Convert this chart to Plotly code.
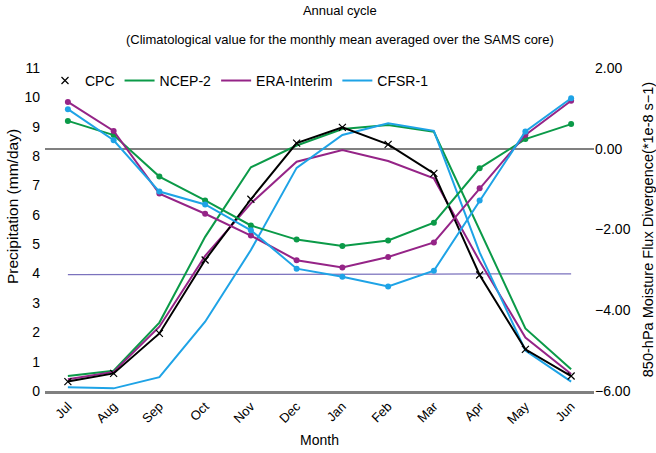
import plotly.graph_objects as go

# months, Jul..Jun
months = ["Jul", "Aug", "Sep", "Oct", "Nov", "Dec", "Jan", "Feb", "Mar", "Apr", "May", "Jun"]

# precipitation (mm/day), left axis
cpc_pr = [0.32, 0.60, 1.96, 4.46, 6.53, 8.44, 8.98, 8.40, 7.41, 3.95, 1.42, 0.51]
ncep_pr = [0.51, 0.69, 2.33, 5.25, 7.62, 8.36, 8.92, 9.06, 8.83, 5.50, 2.13, 0.74]
era_pr = [0.40, 0.65, 2.19, 4.60, 6.39, 7.81, 8.21, 7.83, 7.24, 4.42, 1.82, 0.58]
cfsr_pr = [0.13, 0.09, 0.47, 2.36, 4.80, 7.60, 8.72, 9.12, 8.86, 4.72, 1.38, 0.32]

# 850-hPa moisture flux divergence (*1e-8 s-1), right axis
ncep_div = [0.69, 0.34, -0.69, -1.28, -1.90, -2.25, -2.41, -2.27, -1.83, -0.48, 0.24, 0.61]
era_div = [1.16, 0.44, -1.11, -1.61, -2.15, -2.76, -2.94, -2.68, -2.32, -0.98, 0.34, 1.19]
cfsr_div = [0.98, 0.21, -1.06, -1.38, -2.02, -2.97, -3.17, -3.41, -3.02, -1.28, 0.43, 1.25]

# thin reference line near 4 mm/day
ref_line = [3.96, 3.96, 3.96, 3.97, 3.97, 3.97, 3.98, 3.98, 3.98, 3.99, 3.99, 3.99]

BLACK = "#000000"
GREEN = "#0b9a48"
PURPLE = "#952487"
BLUE = "#1ea3e6"

fig = go.Figure()

fig.add_trace(go.Scatter(x=months, y=ref_line, mode="lines",
                         line=dict(color="#7b72bd", width=1.2), showlegend=False))

# divergence series with dots
for vals, col in [(ncep_div, GREEN), (era_div, PURPLE), (cfsr_div, BLUE)]:
    fig.add_trace(go.Scatter(x=months, y=vals, mode="lines+markers", yaxis="y2",
                             line=dict(color=col, width=2),
                             marker=dict(color=col, size=6), showlegend=False))

# precipitation series
for vals, col, name in [(ncep_pr, GREEN, "NCEP-2"), (era_pr, PURPLE, "ERA-Interim"),
                        (cfsr_pr, BLUE, "CFSR-1")]:
    fig.add_trace(go.Scatter(x=months, y=vals, mode="lines", name=name,
                             line=dict(color=col, width=2), legendrank=2))

fig.add_trace(go.Scatter(x=months, y=cpc_pr, mode="lines+markers", name="CPC",
                         line=dict(color=BLACK, width=2),
                         marker=dict(symbol="x-thin", size=7,
                                     line=dict(color=BLACK, width=1.2)),
                         showlegend=False))
# legend entry for CPC (marker only)
fig.add_trace(go.Scatter(x=[None], y=[None], mode="markers", name="CPC",
                         marker=dict(symbol="x-thin", size=7,
                                     line=dict(color=BLACK, width=1.2)),
                         legendrank=1))

fig.update_layout(
    width=656, height=453,
    margin=dict(l=45, r=62, t=68, b=62, autoexpand=False),
    paper_bgcolor="white", plot_bgcolor="white",
    font=dict(family="Liberation Sans, Arial, sans-serif", size=13, color="black"),
    title=dict(text="Annual cycle", x=0.518, xanchor="center",
               y=1 - 10 / 453, yanchor="middle", font=dict(size=13)),
    showlegend=True,
    legend=dict(orientation="h", x=0.0, xanchor="left", y=0.96, yanchor="middle",
                bgcolor="rgba(0,0,0,0)", font=dict(size=14),
                itemwidth=30, tracegroupgap=0),
    xaxis=dict(type="category", range=[-0.5, 11.5], tickangle=-45,
               showgrid=False, zeroline=False, ticks="", automargin=False,
               showline=True, linecolor="#808080", linewidth=2.5,
               title=dict(text="Month", standoff=10, font=dict(size=14)),
               tickfont=dict(size=13)),
    yaxis=dict(range=[0, 11], dtick=1, showgrid=False, zeroline=False, automargin=False,
               showline=False, ticks="", tickfont=dict(size=14), ticklabelstandoff=4),
    yaxis2=dict(range=[-6, 2], dtick=2, tickformat=".2f", overlaying="y",
                side="right", showgrid=False, showline=False, ticks="", automargin=False,
                zeroline=True, zerolinecolor="#808080", zerolinewidth=2,
                tickfont=dict(size=14),
                title=dict(text="850-hPa Moisture Flux Divergence(*1e-8 s\u22121)",
                           font=dict(size=14.5), standoff=14)),
    annotations=[
        dict(text="(Climatological value for the monthly mean averaged over the SAMS core)",
             xref="paper", yref="paper", x=(340 - 45) / 549, y=1 + 28 / 323,
             xanchor="center", yanchor="middle", showarrow=False,
             font=dict(size=13)),
        dict(text="Precipitation (mm/day)", textangle=-90,
             xref="paper", yref="paper", x=-33 / 549, y=(391 - 207) / 323,
             xanchor="center", yanchor="middle", showarrow=False,
             font=dict(size=15.5)),
    ],
)

# page body has a default 8px margin; drop it so the figure fills the window
fig.write_html("out.html", config={"displayModeBar": False},
               post_script="document.body.style.margin='0';")
